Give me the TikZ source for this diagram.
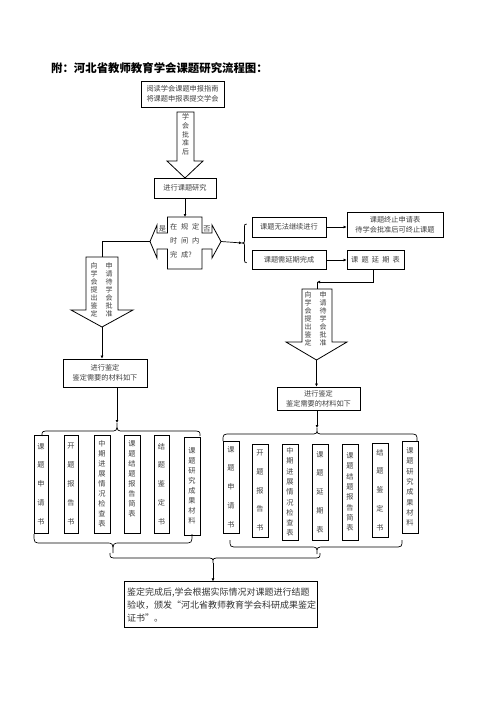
\documentclass[tikz,border=0pt]{standalone}
\usepackage{fontspec}
\setmainfont{Noto Sans CJK SC}
\usetikzlibrary{arrows.meta}
\newcommand\hbrace[6]{%
  \draw[brace] (#1,#4) .. controls (#1,#5) .. ({#1+8},#5) -- ({#3-7},#5)
    .. controls (#3,#5) .. (#3,#6) .. controls (#3,#5) .. ({#3+7},#5)
    -- ({#2-8},#5) .. controls (#2,#5) .. (#2,#4);}
\begin{document}
\begin{tikzpicture}[x=1pt,y=-1pt,
  box/.style={draw,line width=0.7pt,inner sep=0pt,text=black!75,font=\fontsize{7.2}{10}\selectfont,align=center},
  col/.style={draw,line width=0.7pt,inner sep=0pt,text=black!75,align=center,minimum width=16pt},
  tight/.style={font=\fontsize{7.2}{10}\selectfont},
  spread/.style={font=\fontsize{7.2}{18.8}\selectfont},
  conn/.style={line width=0.7pt,-{Latex[length=3pt,width=3pt]}},
  plain/.style={line width=0.7pt},
  blockarrow/.style={draw,line width=0.8pt,fill=white},
  brace/.style={line width=0.7pt},
  lbl/.style={inner sep=0pt,text=black!75,font=\fontsize{7.2}{10}\selectfont,align=center},
  vlbl/.style={inner sep=0pt,text=black!75,font=\fontsize{7}{8}\selectfont,align=center},
]
\useasboundingbox (0,0) rectangle (496,702);
\fill[white] (0,0) rectangle (496,702);

% title
\node[anchor=west,inner sep=0pt,font=\fontsize{11.4}{12}\selectfont\bfseries] (title) at (51,68) {附：河北省教师教育学会课题研究流程图：};

% top boxes
\node[box,minimum width=83pt,minimum height=26pt] (read) at (182.5,94) {阅读学会课题申报指南\\将课题申报表提交学会};
\draw[blockarrow] (177,112) -- (194,112) -- (194,161) -- (203,161) -- (185,178) -- (167,161) -- (177,161) -- cycle;
\node[vlbl,font=\fontsize{7}{8.7}\selectfont] (approve) at (185.5,134.5) {学\\会\\批\\准\\后};
\node[box,minimum width=62pt,minimum height=20pt] (study) at (185,188) {进行课题研究};

% decision shape
\coordinate (dtop) at (185,217);
\coordinate (dleft) at (150,241.5);
\coordinate (dright) at (221,241.5);
\draw[line width=0.8pt] (167.5,217) -- (202,217) -- (202,233) -- (212,233) -- (212,225) -- (dright)
  -- (212,258) -- (212,249) -- (202,249) -- (202,269) -- (167.5,269) -- (167.5,249) -- (157,249)
  -- (157,258) -- (dleft) -- (157,225) -- (157,233) -- (167.5,233) -- cycle;
\node[anchor=west,align=left,inner sep=0pt,text=black!75,font=\fontsize{7.2}{14}\selectfont] (decide) at (170,241)
  {在\hspace{3.8pt}规\hspace{3.8pt}定\\时\hspace{3.8pt}间\hspace{3.8pt}内\\完\hspace{3.8pt}成?};
\node[lbl] (yes) at (162.5,229) {是};
\node[lbl] (no) at (207,229) {否};
\draw[conn] (study.south) -- (dtop);

% right branch
\node[box,minimum width=74pt,minimum height=20pt] (cannot) at (289,227) {课题无法继续进行};
\node[box,minimum width=74pt,minimum height=19pt] (delay) at (289,260) {课题需延期完成};
\node[box,minimum width=96pt,minimum height=25pt] (stop) at (395,224.5) {课题终止申请表\\待学会批准后可终止课题};
\node[box,minimum width=57pt,minimum height=19pt] (delayform) at (375.5,259.5) {课\hspace{3.2pt}题\hspace{3.2pt}延\hspace{3.2pt}期\hspace{3.2pt}表};
\coordinate (vbtip) at (242,243);
\draw[brace] (246.7,224) .. controls (244.5,224) .. (244.5,229) -- (244.5,238)
  .. controls (244.5,243) .. (vbtip) .. controls (244.5,243) .. (244.5,248) -- (244.5,257)
  .. controls (244.5,262.7) .. (246.7,262.7);
\draw[conn] (dright) -- (vbtip);
\draw[conn] (cannot.east) -- (cannot.east -| stop.west);
\draw[conn] (delay.east) -- (delay.east -| delayform.west);
\coordinate (bend) at (317,282);
\coordinate (rarrtop) at (317,289);
\coordinate (rarrtip) at (316.5,360);
\draw[conn] ([xshift=-2.5pt]delayform.south) |- (bend);
\draw[plain] (bend) -- (rarrtop);

% left block arrow
\coordinate (larrtop) at (102,257);
\coordinate (larrtip) at (102,327);
\draw[plain] (dleft) -| (larrtop);
\draw[blockarrow] (86,257) -- (118,257) -- (118,310) -- (133,310) -- (larrtip) -- (71,310) -- (86,310) -- cycle;
\node[vlbl] (lreq) at (109,290) {申\\请\\待\\学\\会\\批\\准};
\node[vlbl] (lask) at (94,290) {向\\学\\会\\提\\出\\鉴\\定};

% right block arrow
\draw[blockarrow] (302,289) -- (332,289) -- (332,342) -- (347,342) -- (rarrtip) -- (286,342) -- (302,342) -- cycle;
\node[vlbl] (rreq) at (323,319) {申\\请\\待\\学\\会\\批\\准};
\node[vlbl] (rask) at (308,319) {向\\学\\会\\提\\出\\鉴\\定};

% appraisal boxes
\node[box,minimum width=84pt,minimum height=28pt] (lappr) at (105,373) {进行鉴定\\鉴定需要的材料如下};
\node[box,minimum width=83pt,minimum height=23pt] (rappr) at (318.5,398.5) {进行鉴定\\鉴定需要的材料如下};
\coordinate (tlb) at (117,423);
\coordinate (trb) at (317,428);
\draw[conn] (larrtip) -- (larrtip |- lappr.north);
\draw[conn] (rarrtip) -- (rarrtip |- rappr.north);
\draw[conn] (lappr.south -| tlb) -- (tlb);
\draw[conn] (rappr.south -| trb) -- (trb);

% braces above columns
\hbrace{42}{200}{117}{436}{431}{423}
\hbrace{223}{417}{317}{441}{434}{428}

% left column
\node[col,spread,minimum width=14pt,minimum height=98pt] (l1) at (41,484) {课\\题\\申\\请\\书};
\node[col,spread,minimum width=14pt,minimum height=98pt] (l2) at (71,484) {开\\题\\报\\告\\书};
\node[col,tight,minimum height=98pt] (l3) at (102,484) {中\\期\\进\\展\\情\\况\\检\\查\\表};
\node[col,tight,minimum height=98pt] (l4) at (132,484) {课\\题\\结\\题\\报\\告\\简\\表\\\mbox{}};
\node[col,spread,minimum width=15pt,minimum height=98pt] (l5) at (161.5,484) {结\\题\\鉴\\定\\书};
\node[col,tight,minimum height=98pt] (l6) at (192,486) {课\\题\\研\\究\\成\\果\\材\\料};

% right column
\node[col,spread,minimum height=92pt] (r1) at (231,487) {课\\题\\申\\请\\书};
\node[col,spread,minimum height=93pt] (r2) at (260,490.5) {开\\题\\报\\告\\书};
\node[col,tight,font=\fontsize{7.2}{10.3}\selectfont,minimum height=96pt] (r3) at (290,492) {中\\期\\进\\展\\情\\况\\检\\查\\表};
\node[col,spread,minimum height=96pt] (r4) at (320,492) {课\\题\\延\\期\\表};
\node[col,tight,font=\fontsize{7.2}{10.3}\selectfont,minimum height=96pt] (r5) at (350,492) {课\\题\\结\\题\\报\\告\\简\\表};
\node[col,spread,minimum height=94pt] (r6) at (380,490) {结\\题\\鉴\\定\\书};
\node[col,tight,font=\fontsize{7.2}{10.3}\selectfont,minimum height=92pt] (r7) at (410,487) {课\\题\\研\\究\\成\\果\\材\\料};

% braces below columns
\hbrace{34}{192}{113}{534}{543}{553}
\hbrace{230}{402}{317}{540}{547}{554}
\hbrace{110}{320}{213}{553}{558}{563}
\coordinate (bbt) at (213,563);

% final box
\node[draw,line width=0.7pt,minimum width=193pt,minimum height=45.5pt,inner sep=0pt] (final) at (220.5,604.5) {};
\node[anchor=west,align=left,inner sep=0pt,text=black!80,font=\fontsize{9}{13}\selectfont] (finaltext) at (127,605)
  {鉴定完成后,学会根据实际情况对课题进行结题\\验收，颁发“河北省教师教育学会科研成果鉴定\\证书”。};
\draw[conn] (bbt) -- (bbt |- final.north);
\end{tikzpicture}
\end{document}
